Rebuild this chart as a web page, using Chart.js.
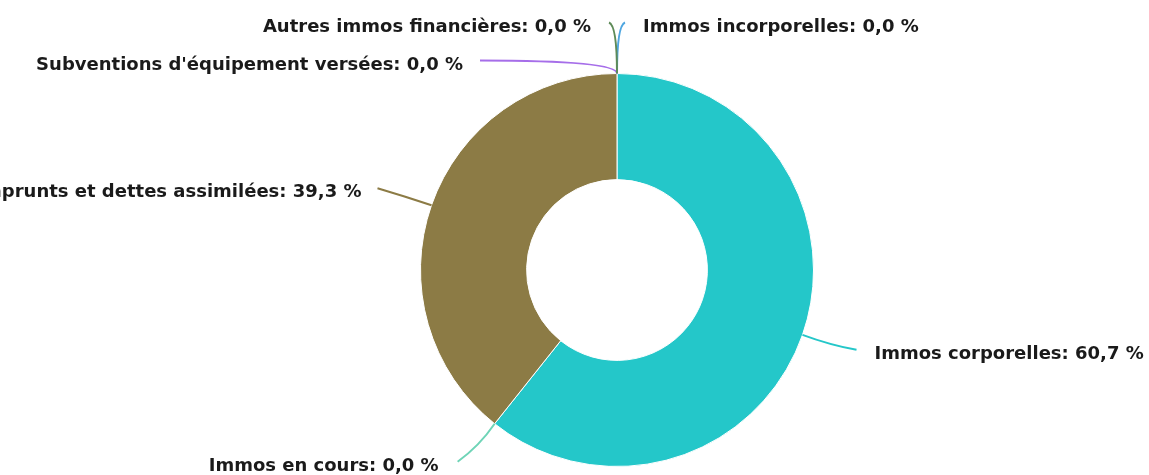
<!DOCTYPE html>
<html>
<head>
<meta charset="utf-8">
<script src="https://cdn.jsdelivr.net/npm/chart.js@4"></script>
<style>
  body { margin: 0; background: #fff; }
  #wrap { width: 1149px; height: 475px; }
</style>
</head>
<body>
<div id="wrap"><canvas id="myChart" width="1149" height="475"></canvas></div>
<script>
const labels = [
  'Immos incorporelles',
  'Immos corporelles',
  'Immos en cours',
  'Emprunts et dettes assimilées',
  "Subventions d'équipement versées",
  'Autres immos financières'
];
const values = [0.0, 60.7, 0.0, 39.3, 0.0, 0.0];
const colors = ['#4ea6e0', '#24c7c9', '#6fd4b7', '#8c7b45', '#a66ee9', '#5e8b58'];

// leader line layout per slice: control point and end, relative to the anchor on the arc
const leaders = [
  { c: [0, -48], e: [8, -51], side: 1, gap: 18 },
  { c: [27, 10], e: [54, 15], side: 1, gap: 18 },
  { c: [-15, 22], e: [-37, 38], side: -1, gap: 19 },
  { c: [-27, -9], e: [-54, -17], side: -1, gap: 16 },
  { c: [0, -13], e: [-137, -13], side: -1, gap: 17 },
  { c: [0, -48], e: [-8, -51], side: -1, gap: 18 }
];

function fmt(v) {
  return v.toFixed(1).replace('.', ',') + ' %';
}

const outsideLabels = {
  id: 'outsideLabels',
  afterDraw(chart) {
    const ctx = chart.ctx;
    const meta = chart.getDatasetMeta(0);
    ctx.save();
    meta.data.forEach((arc, i) => {
      const p = arc.getProps(['x', 'y', 'startAngle', 'endAngle', 'outerRadius'], true);
      const mid = (p.startAngle + p.endAngle) / 2;
      const ax = p.x + Math.cos(mid) * p.outerRadius;
      const ay = p.y + Math.sin(mid) * p.outerRadius;
      const l = leaders[i];
      const ex = ax + l.e[0], ey = ay + l.e[1];
      ctx.beginPath();
      ctx.moveTo(ax, ay);
      ctx.quadraticCurveTo(ax + l.c[0], ay + l.c[1], ex, ey);
      ctx.strokeStyle = colors[i];
      ctx.lineWidth = 2;
      ctx.stroke();

      ctx.font = 'bold 18px "DejaVu Sans"';
      ctx.fillStyle = '#1a1a1a';
      ctx.textBaseline = 'alphabetic';
      ctx.textAlign = l.side > 0 ? 'left' : 'right';
      ctx.fillText(labels[i] + ': ' + fmt(values[i]), ex + l.side * l.gap, ey + 9);
    });
    ctx.restore();
  }
};

const data = {
  labels: labels,
  datasets: [{
    data: values,
    backgroundColor: colors,
    borderColor: '#ffffff',
    borderWidth: 1
  }]
};

const config = {
  type: 'doughnut',
  data,
  options: {
    responsive: false,
    animation: false,
    cutout: '46%',
    layout: {
      padding: { top: 73, bottom: 8, left: 300, right: 215 }
    },
    plugins: {
      legend: { display: false },
      tooltip: { enabled: false }
    }
  },
  plugins: [outsideLabels]
};

const myChart = new Chart(
  document.getElementById('myChart'),
  config
);
</script>
</body>
</html>
